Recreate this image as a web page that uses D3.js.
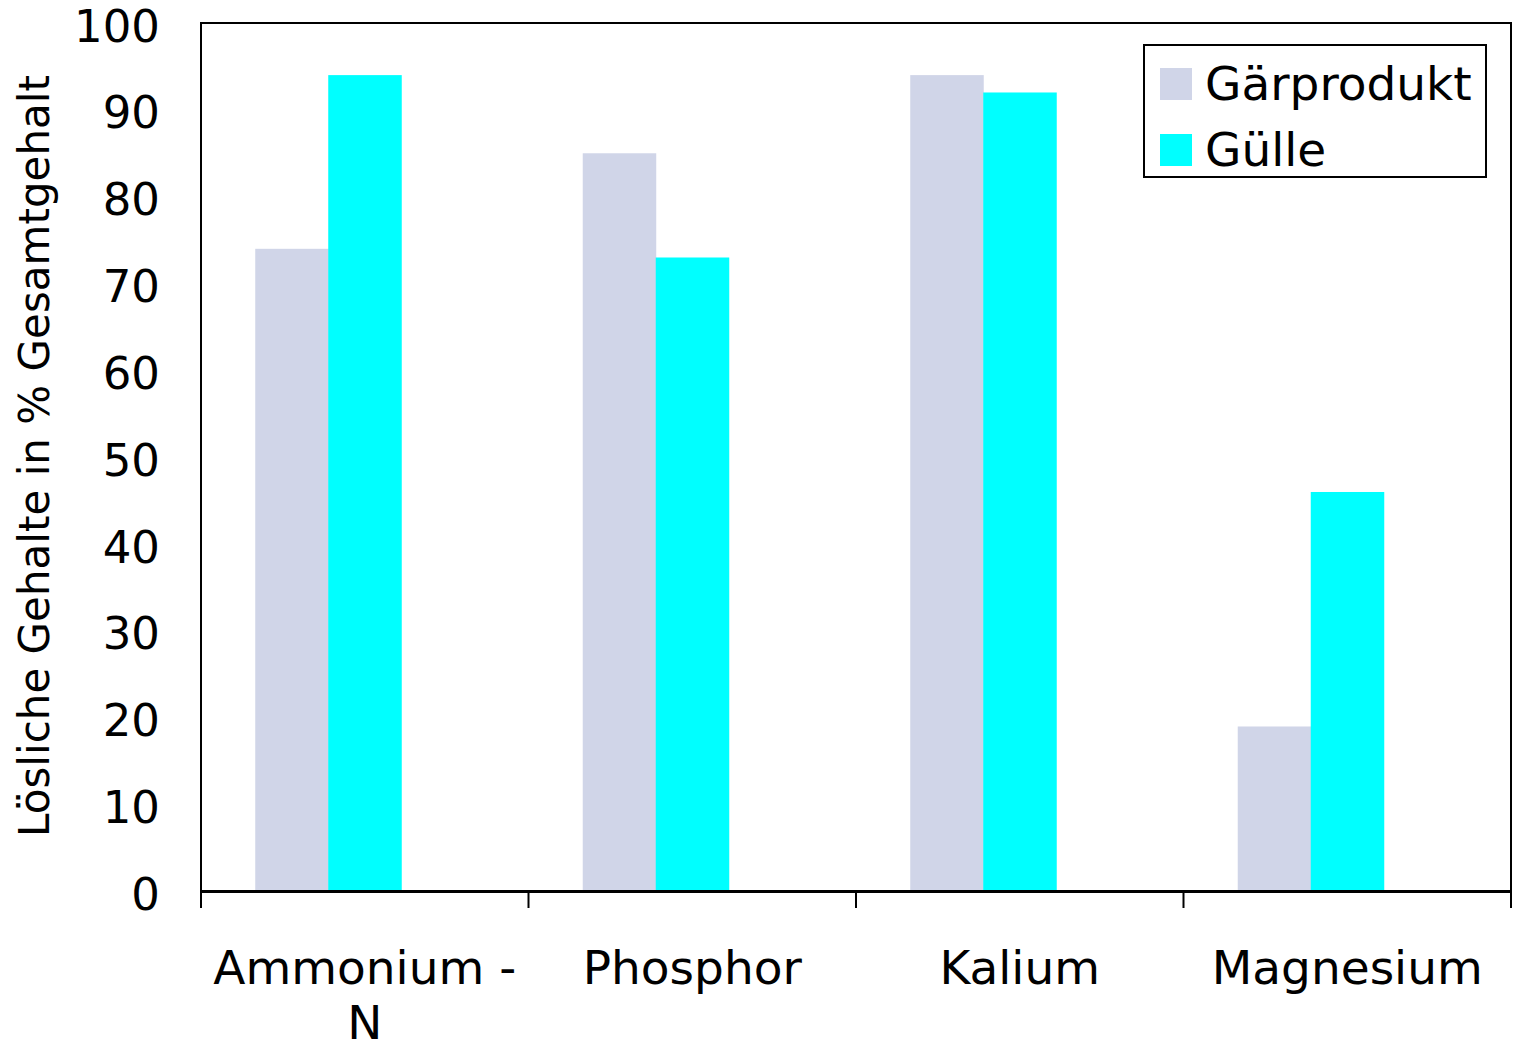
<!DOCTYPE html>
<html><head><meta charset="utf-8">
<script src="https://cdn.jsdelivr.net/npm/d3@7"></script>
<style>body{margin:0;background:#fff}text{font-family:"DejaVu Sans",sans-serif;fill:#000}</style>
</head><body>
<script>
const categories = [["Ammonium -","N"],["Phosphor"],["Kalium"],["Magnesium"]];
const seriesNames = ["Gärprodukt","Gülle"];
const gaerprodukt = [74, 85, 94, 19];
const guelle = [94, 73, 92, 46];
const yTicks = [0,10,20,30,40,50,60,70,80,90,100];
const colors = ["#D0D5E8","#00FFFF"];

const W=1516,H=1045;
const m={l:201,r:1511,t:23,b:891.5};
const svg=d3.select("body").append("svg").attr("width",W).attr("height",H);
const catKeys=categories.map((c,i)=>i);
const x0=d3.scaleBand().domain(catKeys).range([m.l,m.r]).padding(0);
// three slots per category (third slot empty), as in the original
const x1=d3.scaleBand().domain([0,1,2]).range([0,x0.bandwidth()]).paddingInner(0).paddingOuter(0.743);
const y=d3.scaleLinear().domain([0,100]).range([m.b,m.t]);
const series=[gaerprodukt,guelle];

series.forEach((vals,s)=>{
  svg.append("g").selectAll("rect").data(vals).join("rect")
    .attr("x",(d,i)=>x0(i)+x1(s)).attr("width",x1.bandwidth()+0.5)
    .attr("y",d=>y(d)).attr("height",d=>y(0)-y(d)).attr("fill",colors[s]);
});

// frame
svg.append("rect").attr("x",m.l).attr("y",m.t).attr("width",m.r-m.l).attr("height",m.b-m.t)
  .attr("fill","none").attr("stroke","#000").attr("stroke-width",2);

// y tick labels
svg.append("g").selectAll("text").data(yTicks).join("text")
  .attr("x",160).attr("y",d=>y(d)+3).attr("text-anchor","end").attr("dominant-baseline","central")
  .attr("font-size",45).text(d=>d);

// x ticks at boundaries
const bounds=catKeys.map(i=>x0(i)).concat([m.r]);
svg.append("g").selectAll("line").data(bounds).join("line")
  .attr("x1",d=>d).attr("x2",d=>d).attr("y1",m.b).attr("y2",908).attr("stroke","#000").attr("stroke-width",2);
svg.append("line").attr("x1",m.l).attr("x2",m.r).attr("y1",m.b).attr("y2",m.b).attr("stroke","#000").attr("stroke-width",3);

// category labels
const cl=svg.append("g").selectAll("text").data(categories).join("text")
  .attr("text-anchor","middle").attr("font-size",47);
cl.each(function(lines,i){
  const t=d3.select(this);
  lines.forEach((ln,k)=>t.append("tspan").attr("x",x0(i)+x0.bandwidth()/2).attr("y",984+k*55).text(ln));
});

// y title
svg.append("text").attr("transform","translate(49,456) rotate(-90)").attr("text-anchor","middle")
  .attr("font-size",42).text("Lösliche Gehalte in % Gesamtgehalt");

// legend
const lg=svg.append("g");
lg.append("rect").attr("x",1144).attr("y",45).attr("width",342).attr("height",132)
  .attr("fill","#fff").attr("stroke","#000").attr("stroke-width",2);
seriesNames.forEach((n,i)=>{
  lg.append("rect").attr("x",1160).attr("y",68+i*66).attr("width",32).attr("height",32).attr("fill",colors[i]);
  lg.append("text").attr("x",1205).attr("y",100+i*66).attr("font-size",47).text(n);
});
</script>
</body></html>
